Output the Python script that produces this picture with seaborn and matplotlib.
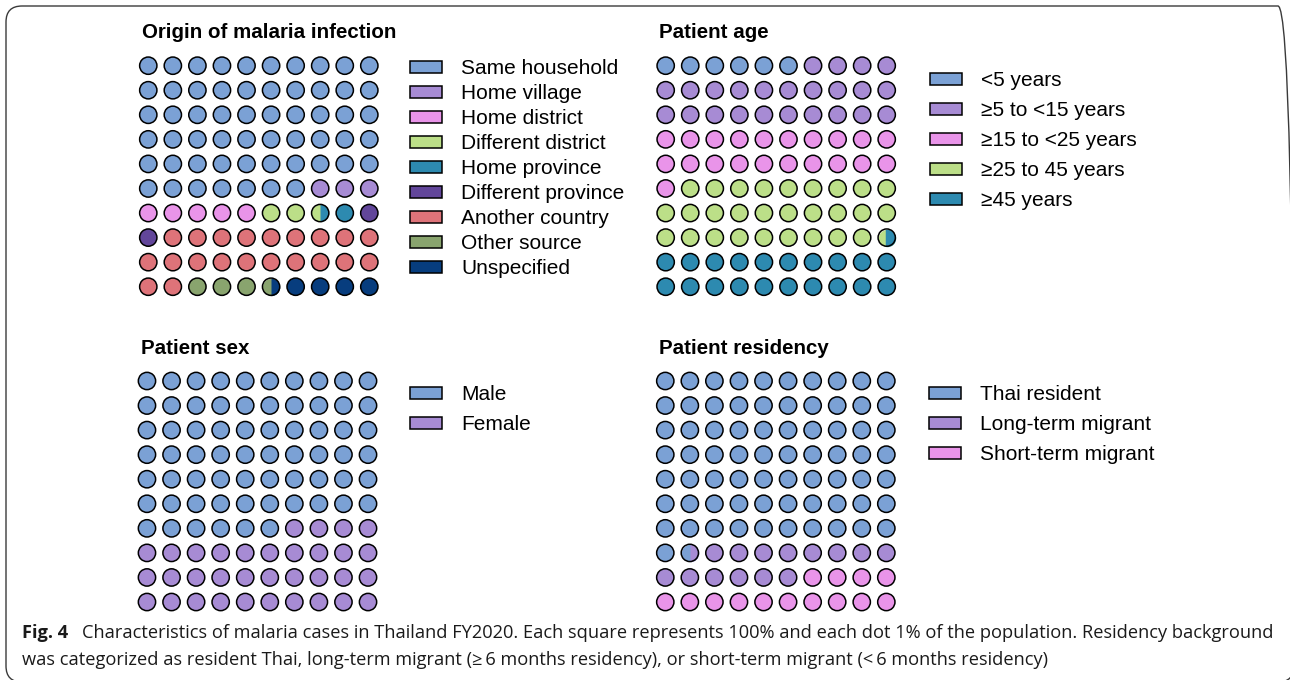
import numpy as np
import pandas as pd
import seaborn as sns
import matplotlib.pyplot as plt
from matplotlib.patches import Patch, FancyBboxPatch
from matplotlib.path import Path

# ---- data (percent of cases) ----
origin_labels = ['Same household', 'Home village', 'Home district', 'Different district',
                 'Home province', 'Different province', 'Another country', 'Other source',
                 'Unspecified']
origin_values = [57, 3, 5, 2.5, 1.5, 2, 21, 3.5, 4.5]

age_labels = ['<5 years', '≥5 to <15 years', '≥15 to <25 years', '≥25 to 45 years', '≥45 years']
age_values = [6, 24, 21, 28.4, 20.6]

sex_labels = ['Male', 'Female']
sex_values = [66, 34]

residency_labels = ['Thai resident', 'Long-term migrant', 'Short-term migrant']
residency_values = [71.5, 14.5, 14]

origin_colors = ['#7BA1D5', '#A78BD4', '#E994E9', '#BCDF88', '#2D8AB0',
                 '#62469A', '#DE7379', '#89A46E', '#073D7E']
age_colors = ['#7BA1D5', '#A78BD4', '#E994E9', '#BCDF88', '#2D8AB0']
sex_colors = ['#7BA1D5', '#A78BD4']
residency_colors = ['#7BA1D5', '#A78BD4', '#E994E9']

caption_1 = ('Characteristics of malaria cases in Thailand FY2020. Each square represents 100% '
             'and each dot 1% of the population. Residency background')
caption_2 = ('was categorized as resident Thai, long-term migrant (\u2265\u20096 months residency), '
             'or short-term migrant (<\u20096 months residency)')

sns.set_theme(style='white')
plt.rcParams['font.family'] = ['Liberation Sans', 'DejaVu Sans']
plt.rcParams['text.color'] = 'black'
CAP_FONT = ['Open Sans', 'DejaVu Sans']

W, H = 1290, 680
FS = 15
DOT = 155
EDGE = 1.1

fig = plt.figure(figsize=(W / 100, H / 100), dpi=100)


def dot_table(labels, values):
    edges = np.concatenate([[0], np.cumsum(values)])
    rows = []
    for k in range(100):
        parts = []
        for i, lab in enumerate(labels):
            ov = min(k + 1, edges[i + 1]) - max(k, edges[i])
            if ov > 1e-6:
                parts.append((lab, ov))
        rows.append(dict(x=k % 10, y=k // 10, first=parts[0][0],
                         share=parts[0][1], second=parts[-1][0]))
    return pd.DataFrame(rows)


def segment(left_share):
    # right-hand part of a unit circle, cut at the left share of the width
    a = -1 + 2 * left_share
    th = np.arccos(a)
    t = np.linspace(-th, th, 61)
    verts = np.column_stack([np.cos(t), np.sin(t)])
    verts = np.vstack([verts, verts[:1]])
    codes = [Path.MOVETO] + [Path.LINETO] * 60 + [Path.CLOSEPOLY]
    return Path(verts, codes)


def waffle(left, top, title, labels, values, colors, leg_left, leg_top, spacing):
    side = 245.6
    ax = fig.add_axes([left / W, 1 - (top + side) / H, side / W, side / H])
    df = dot_table(labels, values)
    pal = dict(zip(labels, colors))
    full = df[df.share > 0.999]
    sns.scatterplot(data=full, x='x', y='y', hue='first', palette=pal, hue_order=labels,
                    s=DOT, edgecolor='black', linewidth=EDGE, legend=False, ax=ax, zorder=3)
    for _, r in df[df.share <= 0.999].iterrows():
        ax.scatter(r.x, r.y, s=DOT, color=pal[r['first']], linewidth=0, zorder=3)
        ax.scatter(r.x, r.y, s=DOT, color=pal[r['second']], marker=segment(r.share),
                   linewidth=0, zorder=4)
        ax.scatter(r.x, r.y, s=DOT, facecolor='none', edgecolor='black',
                   linewidth=EDGE, zorder=5)
    ax.set_xlim(-0.5, 9.5)
    ax.set_ylim(9.5, -0.5)
    ax.axis('off')

    handles = [Patch(facecolor=c, edgecolor='black', linewidth=1.1, label=l)
               for l, c in zip(labels, colors)]
    ax.legend(handles=handles, loc='upper left', bbox_to_anchor=(leg_left / W, 1 - leg_top / H),
              bbox_transform=fig.transFigure, frameon=False, fontsize=FS,
              handlelength=1.54, handleheight=0.52, handletextpad=0.92,
              labelspacing=spacing, borderpad=0, borderaxespad=0, labelcolor='black')
    fig.text((left + 6) / W, 1 - (top - 15) / H, title, fontsize=14.8, fontweight='bold',
             va='baseline', ha='left', color='black')
    return ax


waffle(136.0, 53.4, 'Origin of malaria infection', origin_labels, origin_values,
       origin_colors, 410, 59, 0.29)
waffle(653.4, 53.4, 'Patient age', age_labels, age_values, age_colors, 930, 71, 0.53)
waffle(134.7, 368.7, 'Patient sex', sex_labels, sex_values, sex_colors, 410, 385, 0.54)
waffle(653.0, 368.7, 'Patient residency', residency_labels, residency_values,
       residency_colors, 929, 385, 0.54)

# caption, fitted to the width of the first line
y1, y2 = 1 - 638 / H, 1 - 665 / H
bold = fig.text(22 / W, y1, 'Fig. 4', fontweight='bold', family=CAP_FONT, fontsize=12,
                va='baseline', color='#1a1a1a')
rest1 = fig.text(110 / W, y1, caption_1, family=CAP_FONT, fontsize=12, va='baseline',
                 color='#1a1a1a')
line2 = fig.text(22 / W, y2, caption_2, family=CAP_FONT, fontsize=12, va='baseline',
                 color='#1a1a1a')
fig.canvas.draw()
rend = fig.canvas.get_renderer()
total = bold.get_window_extent(rend).width + rest1.get_window_extent(rend).width
size = 12 * (1268 - 22 - 14) / total
for t in (bold, rest1, line2):
    t.set_fontsize(size)
fig.canvas.draw()
rest1.set_x((22 + bold.get_window_extent(rend).width + 14) / W)

border = FancyBboxPatch((0.06, -0.02), 12.88, 6.76,
                        boxstyle='round,pad=0,rounding_size=0.16',
                        transform=fig.dpi_scale_trans, fill=False,
                        edgecolor='#3a3a3a', linewidth=1.0)
fig.add_artist(border)

fig.savefig('out.png', dpi=100)
